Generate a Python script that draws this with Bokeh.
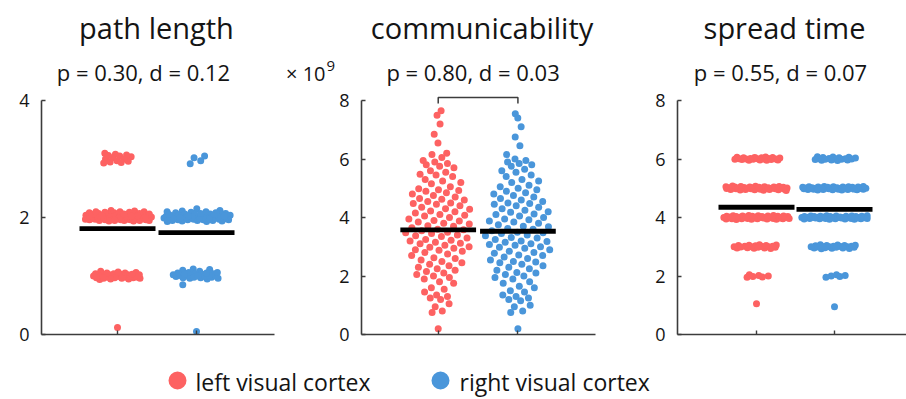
import numpy as np
from bokeh.plotting import figure
from bokeh.models import Range1d, FixedTicker
from bokeh.layouts import row, column
from bokeh.embed import file_html
from bokeh.resources import INLINE
from bokeh.core.properties import value

# ---------------- data ----------------
group_labels = ["left visual cortex", "right visual cortex"]
panel_titles = ["path length", "communicability", "spread time"]
panel_stats = ["p = 0.30, d = 0.12", "p = 0.80, d = 0.03", "p = 0.55, d = 0.07"]
comm_scale_base = "× 10"
comm_scale_exp = "9"

path_left = [0.12,
    0.97, 1.02, 1.0, 0.95, 1.04, 0.99, 1.01, 0.96, 1.06, 0.98, 1.03, 1.0, 0.94, 1.05, 0.99, 1.02, 0.97, 1.08,
    1.0, 0.96, 1.03, 0.98, 1.01, 1.04, 0.95, 1.0, 1.07, 0.99, 0.97, 1.02, 1.05, 0.98, 1.0, 0.96, 1.03,
    2.03, 1.97, 2.08, 1.95, 2.01, 2.1, 1.99, 2.04, 1.96, 2.06, 2.0, 1.94, 2.02, 2.09, 1.98, 2.05, 1.97, 2.12,
    2.0, 1.95, 2.03, 1.99, 2.07, 1.96, 2.01, 2.04, 1.98, 2.1, 1.95, 2.02, 2.0, 2.06, 1.97, 2.03, 1.99, 2.11,
    1.96, 2.05, 2.01, 1.94, 2.08, 1.98, 2.02, 2.0, 1.97, 2.04, 2.09, 1.96, 2.01, 1.99, 2.06, 1.95, 2.03, 2.0,
    1.98, 2.07, 2.02, 1.97, 2.05, 1.99, 2.01, 2.1, 1.96, 2.04, 2.0, 1.98, 2.03, 1.95, 2.06, 2.02,
    3.0, 3.05, 2.95, 3.08, 2.93, 3.02, 3.1, 2.97, 3.04, 2.96, 3.07, 3.0, 2.94, 3.06]
path_right = [0.05, 0.85,
    1.0, 1.04, 0.97, 1.1, 1.02, 0.96, 1.06, 0.99, 1.12, 1.01, 0.98, 1.05, 0.95, 1.03, 1.0, 1.08, 0.97, 1.02,
    1.11, 0.99, 1.04, 0.96, 1.01, 1.06, 0.98, 1.03, 1.0, 1.05,
    2.15, 2.02, 1.96, 2.05, 1.99, 2.08, 1.94, 2.01, 2.1, 1.97, 2.03, 2.0, 1.95, 2.06, 1.98, 2.12, 2.01, 1.93,
    2.04, 1.99, 2.07, 1.96, 2.02, 2.0, 1.98, 2.09, 1.95, 2.03, 2.01, 1.97, 2.05, 1.99, 2.11, 1.94, 2.02, 2.0,
    2.06, 1.96, 2.04, 1.98, 2.01, 1.93, 2.08, 2.0, 1.97, 2.03, 1.99, 2.05, 1.95, 2.02, 2.1, 1.98, 2.0, 2.04,
    1.96, 2.01, 2.07, 1.99, 2.03, 1.97,
    3.05, 2.97, 3.02, 2.92]

comm_left = [0.2,
    0.75, 0.8, 0.95,
    1.05, 1.2, 1.25, 1.3, 1.35, 1.45,
    1.55, 1.6, 1.75, 1.8, 1.9, 1.95,
    2.0, 2.05, 2.1, 2.15, 2.2, 2.25, 2.3, 2.35, 2.4, 2.45,
    2.5, 2.55, 2.6, 2.62, 2.7, 2.75, 2.8, 2.85, 2.88, 2.9, 2.95, 2.98,
    3.0, 3.05, 3.1, 3.12, 3.15, 3.2, 3.22, 3.25, 3.3, 3.35, 3.38, 3.4, 3.45, 3.48,
    3.5, 3.55, 3.58, 3.6, 3.65, 3.7, 3.72, 3.78, 3.8, 3.85, 3.88, 3.9, 3.95,
    4.0, 4.05, 4.08, 4.1, 4.15, 4.2, 4.22, 4.28, 4.3, 4.35, 4.4, 4.45, 4.48,
    4.5, 4.55, 4.6, 4.62, 4.65, 4.7, 4.75, 4.8, 4.85, 4.9, 4.92, 4.95, 4.98,
    5.05, 5.15, 5.2, 5.25, 5.3, 5.4, 5.45, 5.48,
    5.55, 5.6, 5.7, 5.75, 5.8, 5.85, 5.9, 5.95,
    6.05, 6.15, 6.2,
    6.55, 6.85,
    7.2,
    7.5, 7.65]
comm_right = [0.2,
    0.75, 0.8, 0.95,
    1.0, 1.15, 1.2, 1.25, 1.3, 1.35, 1.45,
    1.5, 1.6, 1.65, 1.75, 1.8, 1.9, 1.95,
    2.0, 2.05, 2.1, 2.12, 2.2, 2.25, 2.3, 2.35, 2.4, 2.45, 2.48,
    2.5, 2.55, 2.6, 2.65, 2.7, 2.72, 2.78, 2.8, 2.85, 2.9, 2.95, 2.98,
    3.0, 3.05, 3.08, 3.1, 3.15, 3.18, 3.2, 3.25, 3.3, 3.32, 3.38, 3.4, 3.45, 3.48,
    3.5, 3.55, 3.6, 3.62, 3.68, 3.7, 3.75, 3.8, 3.85, 3.88, 3.92, 3.95,
    4.0, 4.05, 4.1, 4.12, 4.18, 4.2, 4.25, 4.3, 4.35, 4.4, 4.45, 4.48,
    4.5, 4.55, 4.6, 4.65, 4.7, 4.75, 4.8, 4.85, 4.9, 4.95,
    5.0, 5.05, 5.1, 5.2, 5.25, 5.3, 5.4, 5.45,
    5.55, 5.6, 5.65, 5.75, 5.8, 5.85, 5.9, 5.95,
    6.0, 6.15,
    6.45, 6.75,
    7.1, 7.4,
    7.55]

spread_left = [1.05,
    2.02, 1.97, 2.04, 1.96, 2.0, 1.98,
    3.0, 2.96, 3.04, 2.98, 3.06, 2.94, 3.02, 3.0, 2.97, 3.05, 2.99, 3.03, 2.95, 3.01, 3.07, 2.98, 3.02, 2.96,
    3.04, 3.0,
    4.0, 3.96, 4.04, 3.98, 4.06, 3.94, 4.02, 4.0, 3.97, 4.05, 3.99, 4.03, 3.95, 4.01, 4.07, 3.98, 4.02, 3.96,
    4.04, 4.0, 3.93, 4.05, 3.99, 4.01, 4.06, 3.97, 4.03, 3.95, 4.0, 4.02, 3.98, 4.04, 3.96, 4.01, 3.99, 4.07,
    3.94, 4.03, 4.0, 3.97, 4.05, 3.98, 4.02, 4.0, 3.96,
    5.0, 4.96, 5.04, 4.98, 5.06, 4.93, 5.02, 5.0, 4.97, 5.05, 4.99, 5.03, 4.95, 5.01, 5.08, 4.98, 5.02, 4.94,
    5.04, 5.0, 4.96, 5.06, 4.99, 5.01, 5.03, 4.97, 5.07, 4.95, 5.02, 5.0, 4.98, 5.04, 4.92, 5.01, 5.05, 4.99,
    5.03, 4.96, 5.0, 5.02,
    6.0, 6.04, 5.97, 6.06, 5.99, 6.02, 5.96, 6.05, 6.01, 5.98, 6.07, 6.0, 5.97, 6.03, 5.99, 6.05, 6.01, 5.96,
    6.04, 6.0, 6.02, 5.98]
spread_right = [0.95,
    2.0, 1.96, 2.04, 1.98, 2.02,
    3.0, 2.96, 3.04, 2.98, 3.06, 2.94, 3.02, 3.0, 2.97, 3.05, 2.99, 3.03, 2.95, 3.01, 3.07, 2.93, 3.02, 2.98,
    3.04, 3.0, 2.96, 3.01,
    4.0, 3.97, 4.03, 3.99, 4.05, 3.95, 4.01, 4.0, 3.98, 4.04, 3.96, 4.02, 3.94, 4.0, 4.06, 3.99, 4.03, 3.97,
    4.01, 4.05, 3.96, 4.02, 3.98, 4.0, 4.04, 3.95, 4.01, 3.99, 4.03, 3.97, 4.06, 4.0, 3.98, 4.02, 3.96, 4.04,
    3.99, 4.01, 3.94, 4.05, 4.0, 3.97, 4.03, 3.98, 4.02,
    5.0, 4.97, 5.03, 4.99, 5.05, 4.95, 5.01, 5.0, 4.98, 5.04, 4.96, 5.02, 4.94, 5.0, 5.06, 4.99, 5.03, 4.97,
    5.01, 5.05, 4.96, 5.02, 4.98, 5.0, 5.04, 4.95, 5.01, 4.99, 5.03, 4.97, 5.06, 5.0, 4.98, 5.02, 4.96, 5.04,
    4.99, 5.01, 4.94, 5.05, 5.0, 4.97,
    6.0, 6.05, 5.97, 6.08, 5.99, 6.02, 5.95, 6.06, 6.01, 5.98, 6.04, 6.0, 5.96, 6.07, 5.99, 6.03, 5.97, 6.01]

means_path = [1.81, 1.74]
means_comm = [3.58, 3.53]
means_spread = [4.35, 4.28]

y_max = [4, 8, 8]
y_ticks = [[0, 2, 4], [0, 2, 4, 6, 8], [0, 2, 4, 6, 8]]

# ---------------- style ----------------
RED = "#fd6262"
BLUE = "#4a96da"
AXIS_C = "#3c3c3c"
TXT = "#141414"
FONT = "Open Sans"

FIG_H = 350
BASE_PX = 334          # page y of the x axis
AXIS_H = 234           # pixels from 0 to y_max


def swarm_offsets(vals, bw, half_px, ppx, expo):
    v = np.asarray(vals, float)
    dens = np.exp(-0.5 * ((v[:, None] - v[None, :]) / bw) ** 2).sum(axis=1)
    w = (half_px / ppx) * (dens / dens.max()) ** expo
    order = np.argsort(v, kind="stable")
    u = np.empty_like(v)
    u[order] = 2.0 * ((np.arange(len(v)) * 0.6180339887 + 0.5) % 1.0) - 1.0
    return w * u


def make_panel(idx, fig_left, width, axis_px, tick1_px, ppx, axis_end_px, series, means,
               bw, expo, title_cx, stat_cx, bracket=False):
    ymax = y_max[idx]
    bl = axis_px - fig_left
    frame_w = width - bl
    x0 = 1 - (tick1_px - axis_px) / ppx
    x1 = x0 + frame_w / ppx
    ytop = ymax * BASE_PX / AXIS_H

    def xd(px):
        return x0 + (px - axis_px) / ppx

    def yd(py):
        return (BASE_PX - py) * ymax / AXIS_H

    p = figure(width=width, height=FIG_H,
               x_range=Range1d(x0, x1), y_range=Range1d(0, ytop),
               output_backend="svg", toolbar_location=None, title=None,
               min_border_left=bl, min_border_right=0,
               min_border_top=0, min_border_bottom=FIG_H - BASE_PX)
    p.xgrid.visible = False
    p.ygrid.visible = False
    p.outline_line_color = None
    p.background_fill_color = "white"
    p.border_fill_color = "white"

    ya = p.yaxis[0]
    ya.bounds = (0, ymax)
    ya.ticker = FixedTicker(ticks=y_ticks[idx])
    ya.major_tick_in = 4
    ya.major_tick_out = 0
    ya.minor_tick_line_color = None
    ya.axis_line_color = AXIS_C
    ya.axis_line_width = 1.6
    ya.major_tick_line_color = AXIS_C
    ya.major_tick_line_width = 1.4
    ya.major_label_text_font = FONT
    ya.major_label_text_font_size = "18px"
    ya.major_label_text_color = TXT
    ya.major_label_standoff = 12

    xa = p.xaxis[0]
    xa.bounds = (x0, xd(axis_end_px))
    xa.ticker = FixedTicker(ticks=[1, 2])
    xa.major_label_overrides = {1: "", 2: ""}
    xa.major_tick_in = 4
    xa.major_tick_out = 0
    xa.minor_tick_line_color = None
    xa.axis_line_color = AXIS_C
    xa.axis_line_width = 1.6
    xa.major_tick_line_color = AXIS_C
    xa.major_tick_line_width = 1.4
    xa.major_label_standoff = 0

    for g, (vals, col) in enumerate(zip(series, [RED, BLUE])):
        off = swarm_offsets(vals, bw, 34, ppx, expo)
        p.scatter(x=(g + 1) + off, y=vals, size=7, fill_color=col, line_color=None)

    half = 38 / ppx
    p.segment(x0=[1 - half, 2 - half], y0=means, x1=[1 + half, 2 + half], y1=means,
              line_color="black", line_width=4.8)

    if bracket:
        p.line(x=[1, 1, 2, 2], y=[yd(103), yd(97), yd(97), yd(103)],
               line_color=AXIS_C, line_width=1.5)

    p.text(x=[xd(title_cx)], y=[yd(27)], text=[panel_titles[idx]], text_align="center",
           text_baseline="middle", text_font=value(FONT), text_font_size="29px",
           text_color=TXT)
    p.text(x=[xd(stat_cx)], y=[yd(71)], text=[panel_stats[idx]], text_align="center",
           text_baseline="middle", text_font=value(FONT), text_font_size="22px",
           text_color=TXT)
    return p, xd, yd


# panel 1's frame runs on to just left of panel 2's tick labels, so that the
# communicability scale factor can be written inside it
p1, xd1, yd1 = make_panel(0, 0, 336, 41, 117, 79, 274, [path_left, path_right], means_path,
                          0.15, 0.5, 156, 143)
p2, _, _ = make_panel(1, 336, 294, 360, 437, 80, 595, [comm_left, comm_right], means_comm,
                      0.45, 1.0, 481, 472, bracket=True)
p3, _, _ = make_panel(2, 630, 276, 677, 756, 78, 906, [spread_left, spread_right], means_spread,
                      0.15, 0.5, 784, 780)

# scale factor of the communicability axis ("× 10" with a raised 9)
p1.text(x=[xd1(325)], y=[yd1(73)], text=[comm_scale_base], text_align="right",
        text_baseline="middle", text_font=value(FONT), text_font_size="20px", text_color=TXT)
p1.text(x=[xd1(326)], y=[yd1(65)], text=[comm_scale_exp], text_align="left",
        text_baseline="middle", text_font=value(FONT), text_font_size="15px", text_color=TXT)

# ---------------- legend row ----------------
leg = figure(width=906, height=49, x_range=Range1d(0, 906), y_range=Range1d(0, 49),
             output_backend="svg", toolbar_location=None, title=None,
             x_axis_location=None, y_axis_location=None,
             min_border_left=0, min_border_right=0, min_border_top=0, min_border_bottom=0)
leg.xgrid.visible = False
leg.ygrid.visible = False
leg.outline_line_color = None
leg.scatter(x=[177, 440], y=[19, 19], size=18, fill_color=[RED, BLUE], line_color=None)
leg.text(x=[195, 459], y=[18, 18], text=group_labels, text_font=value(FONT),
         text_font_size="23px", text_baseline="middle", text_align="left", text_color=TXT)

layout = column(row(p1, p2, p3), leg)
open("out.html", "w").write(file_html(layout, INLINE))
